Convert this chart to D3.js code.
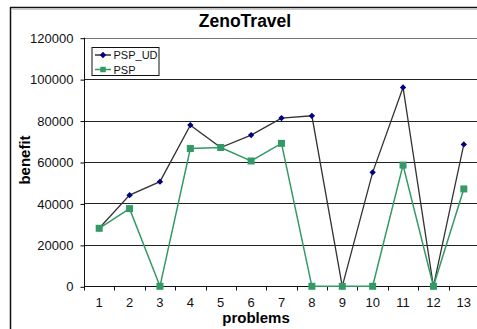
<!DOCTYPE html>
<html>
<head>
<meta charset="utf-8">
<script src="https://cdn.jsdelivr.net/npm/d3@7"></script>
<style>
  body { margin: 0; background: #fff; }
  svg { font-family: "Liberation Sans", Arial, sans-serif; }
</style>
</head>
<body>
<svg id="chart" width="477" height="329"></svg>
<script>
// Data
const problems = ['1','2','3','4','5','6','7','8','9','10','11','12','13']
const pspUD = [28000, 44000, 50500, 77800, 67000, 73000, 81200, 82300, 0, 55000, 96000, 0, 68500]
const psp = [28000, 37500, 0, 66500, 67000, 60500, 69000, 0, 0, 0, 58500, 0, 47000]
const yTicks = [0, 20000, 40000, 60000, 80000, 100000, 120000]

const svg = d3.select('#chart')

// Plot area
const plotLeft = 84, plotRight = 479, plotTop = 37.7, plotBottom = 286.3

const x = d3.scaleBand()
    .domain(problems)
    .range([plotLeft, plotRight])

const y = d3.scaleLinear()
    .domain([0, 120000])
    .range([plotBottom, plotTop])

// Outer chart frame
svg.append('line')
    .attr('x1', 10.5).attr('x2', 10.5).attr('y1', 7).attr('y2', 329)
    .attr('stroke', '#111').attr('stroke-width', 1.5)
svg.append('line')
    .attr('x1', 10).attr('x2', 477).attr('y1', 7.5).attr('y2', 7.5)
    .attr('stroke', '#111').attr('stroke-width', 1.5)
svg.append('line')
    .attr('x1', 11).attr('x2', 477).attr('y1', 9.5).attr('y2', 9.5)
    .attr('stroke', '#ccc').attr('stroke-width', 1)

// Gridlines
svg.append('g')
    .selectAll('line')
    .data(yTicks.filter(d => d > 0))
    .enter()
    .append('line')
    .attr('x1', plotLeft).attr('x2', 477)
    .attr('y1', d => Math.round(y(d)) + 0.5)
    .attr('y2', d => Math.round(y(d)) + 0.5)
    .attr('stroke', d => d === 120000 ? '#777' : '#222')
    .attr('stroke-width', 1)

// Axes
const yAxis = svg.append('g')
    .attr('transform', 'translate(' + (plotLeft + 0.5) + ',0.5)')
    .call(d3.axisLeft(y).tickValues(yTicks).tickSize(4).tickPadding(7).tickFormat(d3.format('d')))
yAxis.select('.domain').attr('stroke', '#111').attr('d', 'M0,' + (plotTop - 0.5) + 'V' + (plotBottom - 0.5))
yAxis.selectAll('text').attr('font-size', 13).attr('fill', '#111')
    .attr('font-family', '"Liberation Sans", Arial, sans-serif')

const xAxis = svg.append('g')
    .attr('transform', 'translate(0,' + (Math.round(plotBottom) + 0.5) + ')')
xAxis.append('line')
    .attr('x1', plotLeft).attr('x2', 477)
    .attr('stroke', '#111')
xAxis.selectAll('.tick')
    .data(d3.range(problems.length + 1))
    .enter()
    .append('line')
    .attr('x1', i => Math.round(plotLeft + i * x.bandwidth()) + 0.5)
    .attr('x2', i => Math.round(plotLeft + i * x.bandwidth()) + 0.5)
    .attr('y1', 0).attr('y2', 4)
    .attr('stroke', '#111')
xAxis.selectAll('.lbl')
    .data(problems)
    .enter()
    .append('text')
    .attr('x', d => x(d) + x.bandwidth() / 2)
    .attr('y', 20.5)
    .attr('text-anchor', 'middle')
    .attr('font-size', 13)
    .attr('fill', '#111')
    .text(d => d)

// Titles
svg.append('text')
    .attr('x', 245).attr('y', 27)
    .attr('text-anchor', 'middle')
    .attr('font-size', 17.5).attr('font-weight', 'bold')
    .text('ZenoTravel')

svg.append('text')
    .attr('transform', 'translate(30,160) rotate(-90)')
    .attr('text-anchor', 'middle')
    .attr('font-size', 15).attr('font-weight', 'bold')
    .text('benefit')

svg.append('text')
    .attr('x', 256).attr('y', 323)
    .attr('text-anchor', 'middle')
    .attr('font-size', 15).attr('font-weight', 'bold')
    .text('problems')

// Lines
const cx = (d, i) => x(problems[i]) + x.bandwidth() / 2
const line = d3.line().x(cx).y(d => y(d))

svg.append('path')
    .datum(pspUD)
    .attr('d', line)
    .attr('fill', 'none')
    .attr('stroke', '#333')
    .attr('stroke-width', 1.3)

svg.append('path')
    .datum(psp)
    .attr('d', line)
    .attr('fill', 'none')
    .attr('stroke', '#339966')
    .attr('stroke-width', 1.5)

// Markers
const diamond = d3.symbol().type(d3.symbolSquare).size(20)
svg.append('g')
    .selectAll('path')
    .data(pspUD)
    .enter()
    .append('path')
    .attr('d', diamond)
    .attr('transform', (d, i) => 'translate(' + cx(d, i) + ',' + y(d) + ') rotate(45)')
    .attr('fill', '#000080')

svg.append('g')
    .selectAll('rect')
    .data(psp)
    .enter()
    .append('rect')
    .attr('x', (d, i) => cx(d, i) - 3.5)
    .attr('y', d => y(d) - 3.5)
    .attr('width', 7).attr('height', 7)
    .attr('fill', '#339966')

// Legend
const legend = svg.append('g').attr('transform', 'translate(92,47.5)')
legend.append('rect')
    .attr('width', 67).attr('height', 28)
    .attr('fill', '#fff').attr('stroke', '#111')
const entries = [
    {name: 'PSP_UD', line: '#333', mark: '#000080', y: 7.5},
    {name: 'PSP', line: '#339966', mark: '#339966', y: 22}
]
const le = legend.selectAll('.entry')
    .data(entries)
    .enter()
    .append('g')
    .attr('transform', d => 'translate(0,' + d.y + ')')
le.append('line')
    .attr('x1', 3).attr('x2', 19)
    .attr('stroke', d => d.line).attr('stroke-width', 1.5)
le.append('path')
    .attr('d', (d, i) => i === 0 ? diamond() : d3.symbol().type(d3.symbolSquare).size(30)())
    .attr('transform', (d, i) => 'translate(11,0)' + (i === 0 ? ' rotate(45)' : ''))
    .attr('fill', d => d.mark)
le.append('text')
    .attr('x', 21.5).attr('y', 4)
    .attr('font-size', 11)
    .attr('fill', '#111')
    .text(d => d.name)
</script>
</body>
</html>
